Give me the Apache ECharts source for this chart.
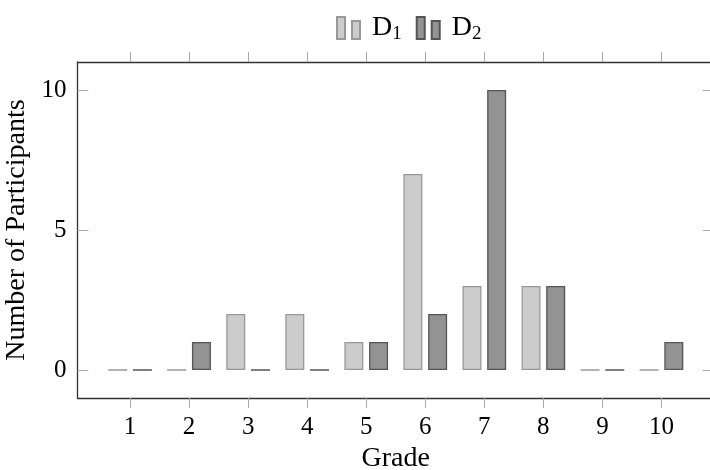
<!DOCTYPE html>
<html>
<head>
<meta charset="utf-8">
<script src="https://cdn.jsdelivr.net/npm/echarts@6/dist/echarts.min.js"></script>
<style>
  html, body { margin: 0; padding: 0; background: #fff; }
  #main { width: 710px; height: 470px; }
</style>
</head>
<body>
<div id="main"></div>
<script>
  var grades = [1, 2, 3, 4, 5, 6, 7, 8, 9, 10];
  var d1 = [0, 0, 2, 2, 1, 7, 3, 3, 0, 0];
  var d2 = [0, 1, 0, 0, 1, 2, 10, 3, 0, 1];
  var yTicks = [0, 5, 10];

  var font = 'Liberation Serif';

  function pairs(vals) {
    return grades.map(function (g, i) { return [g, vals[i]]; });
  }

  var xBase = {
    type: 'value',
    min: 0.11,
    max: 10.89,
    splitLine: { show: false },
    axisLine: { show: true, onZero: false, lineStyle: { color: '#333', width: 1.3 } },
    axisTick: { show: true, inside: false, length: 10, customValues: grades, lineStyle: { color: '#aaa' } },
    axisLabel: { show: false }
  };
  var yBase = {
    type: 'value',
    min: -1,
    max: 11,
    splitLine: { show: false },
    axisLine: { show: true, onZero: false, lineStyle: { color: '#333', width: 1.3 } },
    axisTick: { show: true, inside: true, length: 11, customValues: yTicks, lineStyle: { color: '#aaa' } },
    axisLabel: { show: false }
  };

  var option = {
    backgroundColor: '#fff',
    animation: false,
    legend: {
      top: 9,
      left: 331,
      itemWidth: 23,
      itemHeight: 22,
      itemGap: 14,
      icon: 'path://M0,0h8v22h-8z M15,4h8v18h-8z',
      data: ['D1', 'D2'],
      formatter: function (name) {
        return '{m|D}{sub|' + name.slice(1) + '}';
      },
      textStyle: {
        fontFamily: font,
        color: '#000',
        rich: {
          m: { fontFamily: font, fontSize: 28, color: '#000', padding: [0, 0, 0, 7] },
          sub: { fontFamily: font, fontSize: 19, color: '#000', padding: [12, 0, 0, 0] }
        }
      }
    },
    grid: { left: 77.5, right: -4, top: 62, bottom: 72, outerBoundsMode: 'none', containLabel: false },
    xAxis: [
      Object.assign({}, xBase, {
        position: 'bottom',
        name: 'Grade',
        nameLocation: 'middle',
        nameGap: 45,
        nameTextStyle: { fontFamily: font, fontSize: 28, color: '#000' },
        axisLabel: { show: true, customValues: grades, margin: 17, fontFamily: font, fontSize: 25, color: '#000' }
      }),
      Object.assign({}, xBase, { position: 'top' })
    ],
    yAxis: [
      Object.assign({}, yBase, {
        position: 'left',
        name: 'Number of Participants',
        nameLocation: 'middle',
        nameGap: 44,
        nameTextStyle: { fontFamily: font, fontSize: 28, color: '#000' },
        axisLabel: { show: true, customValues: yTicks, margin: 11, fontFamily: font, fontSize: 25, color: '#000' }
      }),
      Object.assign({}, yBase, { position: 'right' })
    ],
    series: [
      {
        name: 'D1',
        type: 'bar',
        barWidth: 19,
        barGap: '30%',
        data: pairs(d1),
        itemStyle: { color: '#cccccc', borderColor: '#999999', borderWidth: 1.3 }
      },
      {
        name: 'D2',
        type: 'bar',
        barWidth: 19,
        barGap: '30%',
        data: pairs(d2),
        itemStyle: { color: '#939393', borderColor: '#555555', borderWidth: 1.3 }
      }
    ]
  };

  var chart = echarts.init(document.getElementById('main'));
  chart.setOption(option);
</script>
</body>
</html>
